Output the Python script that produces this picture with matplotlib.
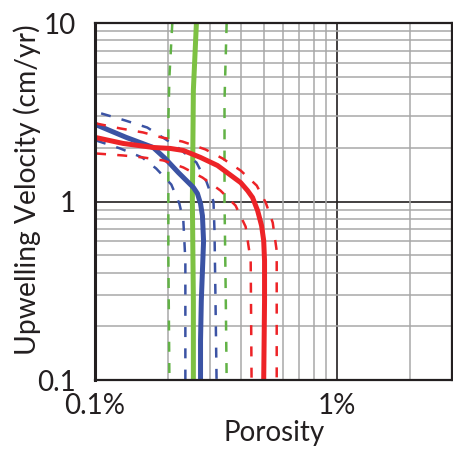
import matplotlib
matplotlib.use("Agg")
import matplotlib.pyplot as plt
from matplotlib.ticker import FixedLocator, NullFormatter

plt.rcParams['font.family'] = ['Lato', 'DejaVu Sans']

# porosity (%) and upwelling velocity (cm/yr)
green_p = [0.2625, 0.255, 0.2526, 0.255, 0.255]
green_v = [10, 4.2, 1.01, 0.278, 0.1]
green_lo_p = [0.2087, 0.203, 0.201, 0.201, 0.203]
green_lo_v = [10, 5.0, 2.85, 0.5, 0.1]
green_hi_p = [0.35, 0.343, 0.343, 0.347, 0.35]
green_hi_v = [10, 3.69, 1.0, 0.3, 0.1]

blue_p = [0.100, 0.1345, 0.174, 0.195, 0.221, 0.255, 0.265, 0.273, 0.278, 0.281, 0.278, 0.275, 0.273, 0.273]
blue_v = [2.71, 2.29, 2.01, 1.745, 1.455, 1.20, 1.11, 0.974, 0.834, 0.60, 0.41, 0.278, 0.166, 0.1]
blue_hi_p = [0.106, 0.133, 0.1644, 0.2148, 0.2625, 0.2888, 0.3088, 0.3118, 0.3148, 0.318]
blue_hi_v = [3.12, 2.85, 2.60, 2.06, 1.656, 1.295, 1.0, 0.687, 0.278, 0.1]
blue_lo_p = [0.101, 0.127, 0.1567, 0.179, 0.2067, 0.2232, 0.2318, 0.2363, 0.2363]
blue_lo_v = [2.20, 1.985, 1.767, 1.532, 1.246, 0.974, 0.782, 0.466, 0.1]

red_p = [0.100, 0.1307, 0.174, 0.2047, 0.2318, 0.273, 0.3208, 0.3998, 0.427, 0.448,
         0.47, 0.488, 0.498, 0.502, 0.502, 0.498]
red_v = [2.29, 2.117, 2.01, 1.985, 1.934, 1.767, 1.593, 1.278, 1.153, 1.053,
         0.89, 0.733, 0.604, 0.466, 0.278, 0.1]
red_hi_p = [0.101, 0.127, 0.158, 0.188, 0.2296, 0.286, 0.3365, 0.3998, 0.466, 0.5077, 0.5427, 0.5636, 0.5636]
red_hi_v = [2.74, 2.57, 2.44, 2.29, 2.17, 1.96, 1.745, 1.493, 1.23, 0.987, 0.762, 0.53, 0.1]
red_lo_p = [0.101, 0.1307, 0.158, 0.1916, 0.2318, 0.278, 0.330, 0.381, 0.4194, 0.44, 0.4437]
red_lo_v = [1.86, 1.813, 1.767, 1.70, 1.553, 1.364, 1.153, 0.95, 0.723, 0.466, 0.1]

x_ticks = [0.1, 1]
x_labels = ["0.1%", "1%"]
y_ticks = [0.1, 1, 10]
y_labels = ["0.1", "1", "10"]

BLUE = "#3b53a4"
RED = "#ed2327"
GREEN = "#7dc143"
GREEN_D = "#62b246"

fig = plt.figure(figsize=(4.53, 4.53), dpi=100)
ax = fig.add_axes([0.2097, 0.161, 0.789, 0.788])
ax.set_xscale("log")
ax.set_yscale("log")
ax.set_xlim(0.1, 3)
ax.set_ylim(0.1, 10)

# grid: grey minor lines, dark lines at the decades
ax.xaxis.set_minor_locator(FixedLocator([0.2, 0.3, 0.4, 0.5, 0.6, 0.7, 0.8, 0.9, 2]))
ax.yaxis.set_minor_locator(FixedLocator([0.2, 0.3, 0.4, 0.5, 0.6, 0.7, 0.8, 0.9,
                                         2, 3, 4, 5, 6, 7, 8, 9]))
ax.xaxis.set_minor_formatter(NullFormatter())
ax.yaxis.set_minor_formatter(NullFormatter())
ax.grid(which="minor", color="#a8a8a8", lw=1.1, zorder=0)
ax.axvline(1, color="#231f20", lw=1.2, zorder=1)
ax.axhline(1, color="#231f20", lw=1.2, zorder=1)

dash = dict(lw=1.8, dashes=(4, 4.5))
ax.plot(green_lo_p, green_lo_v, color=GREEN_D, **dash)
ax.plot(green_hi_p, green_hi_v, color=GREEN_D, **dash)
ax.plot(green_p, green_v, color=GREEN, lw=3.6)

ax.plot(blue_hi_p, blue_hi_v, color=BLUE, **dash)
ax.plot(blue_lo_p, blue_lo_v, color=BLUE, **dash)
ax.plot(blue_p, blue_v, color=BLUE, lw=3.6, solid_joinstyle="round")

ax.plot(red_hi_p, red_hi_v, color=RED, **dash)
ax.plot(red_lo_p, red_lo_v, color=RED, **dash)
ax.plot(red_p, red_v, color=RED, lw=3.6, solid_joinstyle="round")

ax.set_xticks(x_ticks)
ax.set_xticklabels(x_labels)
ax.set_yticks(y_ticks)
ax.set_yticklabels(y_labels)
ax.tick_params(which="both", length=0, labelsize=20, colors="#231f20", pad=9)
ax.tick_params(axis="y", pad=14)

for s in ax.spines.values():
    s.set_linewidth(1.6)
    s.set_color("#231f20")
ax.spines["left"].set_linewidth(2.2)

ax.set_xlabel("Porosity", fontsize=20, color="#231f20", labelpad=1)
ax.set_ylabel("Upwelling Velocity (cm/yr)", fontsize=20.3, color="#231f20")
ax.yaxis.set_label_coords(-0.15, 0.532)

fig.savefig("out.png", dpi=100)
